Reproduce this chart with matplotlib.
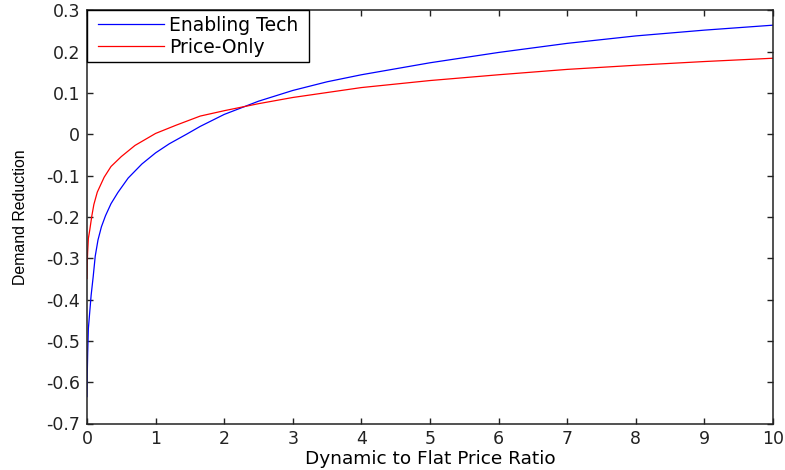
import matplotlib
matplotlib.use("Agg")
import matplotlib.pyplot as plt
from matplotlib.ticker import FixedLocator, FuncFormatter
from matplotlib.lines import Line2D
from matplotlib.legend_handler import HandlerLine2D

# Data
enabling_x = [0.0, 0.004, 0.01, 0.02, 0.04, 0.06, 0.09, 0.12, 0.16, 0.21, 0.27, 0.35,
              0.45, 0.6, 0.8, 1.0, 1.2, 1.45, 1.65, 2.0, 2.5, 3.0, 3.5, 4.0, 5.0,
              6.0, 7.0, 8.0, 9.0, 10.0]
enabling_y = [-0.635, -0.58, -0.53, -0.47, -0.43, -0.39, -0.345, -0.295, -0.256, -0.224,
              -0.197, -0.168, -0.141, -0.106, -0.072, -0.045, -0.023, 0.0, 0.019,
              0.048, 0.080, 0.106, 0.127, 0.144, 0.173, 0.198, 0.220, 0.238, 0.252, 0.264]

price_x = [0.0, 0.004, 0.01, 0.02, 0.04, 0.07, 0.1, 0.15, 0.25, 0.35, 0.5, 0.7, 1.0,
           1.3, 1.65, 2.0, 2.5, 3.0, 4.0, 5.0, 6.0, 7.0, 8.0, 9.0, 10.0]
price_y = [-0.349, -0.31, -0.284, -0.252, -0.232, -0.198, -0.170, -0.140, -0.104,
           -0.078, -0.054, -0.027, 0.002, 0.022, 0.044, 0.057, 0.074, 0.089, 0.113,
           0.130, 0.144, 0.157, 0.167, 0.176, 0.184]

series_labels = ["Enabling Tech", "Price-Only"]
x_ticks = list(range(0, 11))
y_ticks = [-0.7, -0.6, -0.5, -0.4, -0.3, -0.2, -0.1, 0.0, 0.1, 0.2, 0.3]
x_label = "Dynamic to Flat Price Ratio"
y_label = "Demand Reduction"

plt.rcParams['font.family'] = ['DejaVu Sans']

fig = plt.figure(figsize=(7.85, 4.70), dpi=100)
ax = fig.add_axes([87 / 785, 1 - 423.5 / 470, (773 - 87) / 785, (423.5 - 10.3) / 470])

ax.plot(enabling_x, enabling_y, color='#0000ff', lw=0.9, label=series_labels[0])
ax.plot(price_x, price_y, color='#ff0000', lw=0.9, label=series_labels[1])

ax.set_xlim(0, 10)
ax.set_ylim(-0.7, 0.3)
ax.xaxis.set_major_locator(FixedLocator(x_ticks))
ax.yaxis.set_major_locator(FixedLocator(y_ticks))


def yfmt(v, pos):
    s = f"{v:.1f}"
    if s in ("0.0", "-0.0"):
        return "0"
    return s


ax.yaxis.set_major_formatter(FuncFormatter(yfmt))
ax.xaxis.set_major_formatter(FuncFormatter(lambda v, p: f"{int(round(v))}"))

ax.tick_params(direction='in', length=4, width=1.0, top=True, right=True,
               labelsize=12.5, colors='#222222', pad=5)
for sp in ax.spines.values():
    sp.set_linewidth(1.1)
    sp.set_color('#222222')

ax.set_xlabel(x_label, fontsize=13.3, labelpad=1)
ax.set_ylabel(y_label, fontsize=11.4, family=['Liberation Sans', 'DejaVu Sans'], labelpad=13)

leg_w = (309 - 87) / (773 - 87)
leg = ax.legend(loc='upper left', bbox_to_anchor=(0, 1, leg_w, 0), mode='expand',
                borderaxespad=0, fancybox=False, edgecolor='black',
                fontsize=13.5, handlelength=3.8, handletextpad=0.28, borderpad=0.28,
                labelspacing=0.16, framealpha=1,
                handler_map={Line2D: HandlerLine2D(xpad=0.33)})
leg.get_frame().set_linewidth(1.0)

fig.savefig("out.png", dpi=100, facecolor='white')
